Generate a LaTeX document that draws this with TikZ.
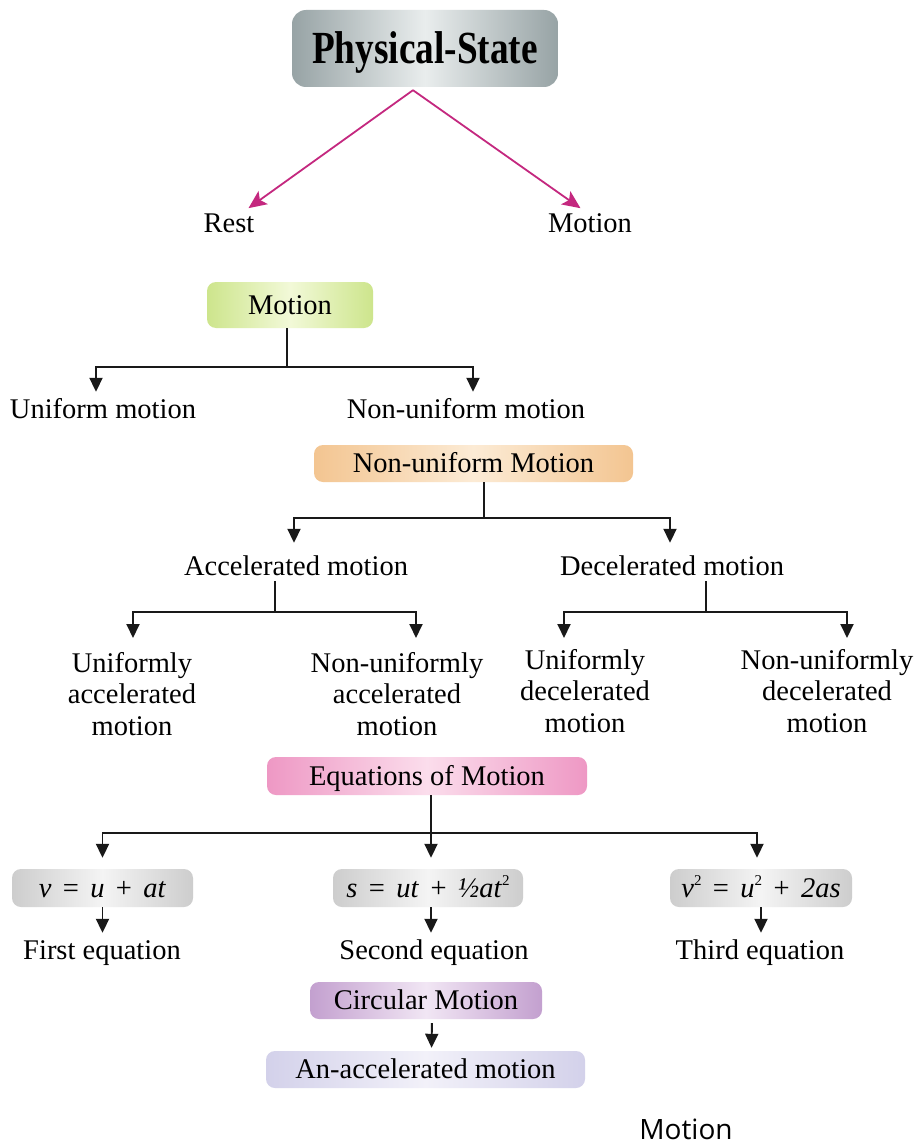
\documentclass[tikz,border=0pt]{standalone}
\usepackage{fontspec}
\setmainfont{Liberation Serif}
\newfontfamily\titlefont[FakeStretch=0.81]{Liberation Serif}
\newfontfamily\labelsans{Open Sans}
\usetikzlibrary{arrows.meta}
\definecolor{mag}{HTML}{C4287F}
\definecolor{psdark}{HTML}{97A3A5}
\definecolor{pslight}{HTML}{E9EDED}
\definecolor{mdark}{HTML}{CDE58C}
\definecolor{mlight}{HTML}{F2F9D8}
\definecolor{ndark}{HTML}{F3C591}
\definecolor{nlight}{HTML}{FCEBD5}
\definecolor{edark}{HTML}{EE98C4}
\definecolor{elight}{HTML}{FBDDEC}
\definecolor{qdark}{HTML}{CDCDCD}
\definecolor{qlight}{HTML}{F4F4F4}
\definecolor{cdark}{HTML}{C3A0CF}
\definecolor{clight}{HTML}{F1E6F4}
\definecolor{adark}{HTML}{D3D1EA}
\definecolor{alight}{HTML}{F2F1F9}
\newcommand{\sqr}{\raisebox{0.42em}{\fontsize{15}{15}\selectfont 2}}
\newcommand{\gap}{\hspace{0.4em}}
\begin{document}
\begin{tikzpicture}[x=1pt,y=-1pt,
  txt/.style={font=\fontsize{28.5}{31.5}\selectfont, inner sep=0pt, text height=19pt, text depth=6pt},
  mtxt/.style={font=\fontsize{28.5}{31.5}\selectfont, inner sep=0pt, align=center, anchor=north},
  boxbase/.style={rounded corners=9pt, inner sep=0pt, text height=18.5pt, text depth=0pt, font=\fontsize{28.5}{31.5}\selectfont},
  gbox/.style 2 args={boxbase, left color=#1, right color=#1, middle color=#2},
  conn/.style={line width=1.9pt, draw=black!90},
  arr/.style={conn, -{Triangle[width=13pt,length=14pt]}},
  magarr/.style={line width=1.8pt, draw=mag, -{Stealth[width=16pt,length=18pt,inset=4pt]}}
]
\useasboundingbox (0,0) rectangle (920,1145);
\fill[white] (0,0) rectangle (920,1145);

% Physical state
\node[gbox={psdark}{pslight}, minimum width=266pt, minimum height=77pt, rounded corners=14pt,
      font=\titlefont\bfseries\fontsize{46}{50}\selectfont, text height=30.5pt] (ps) at (425,48.5) {Physical-State};
\coordinate (apex) at ([xshift=-12pt,yshift=-3pt]ps.south);
\node[txt] (rest) at (229,225.5) {Rest};
\node[txt] (mot) at (590,225.5) {Motion};
\draw[magarr, shorten >=8pt] (apex) -- ([xshift=13pt]rest.north);
\draw[magarr, shorten >=8pt] (apex) -- ([xshift=-3pt]mot.north);

% Motion
\node[gbox={mdark}{mlight}, minimum width=166pt, minimum height=46pt] (mbox) at (290,305) {Motion};
\coordinate (j1) at (287,367);
\draw[conn] (mbox.south -| j1) -- (j1);
\node[txt] (um) at (103,411.5) {Uniform motion};
\node[txt] (num) at (466,411.5) {Non-uniform motion};
\draw[arr, shorten >=7pt] (j1) -| ([xshift=-7pt]um.north);
\draw[arr, shorten >=7pt] (j1) -| ([xshift=7pt]num.north);

% Non-uniform motion
\node[gbox={ndark}{nlight}, minimum width=319pt, minimum height=37pt] (nbox) at (473.5,463.5) {Non-uniform Motion};
\coordinate (j2) at (484,518);
\draw[conn] (nbox.south -| j2) -- (j2);
\node[txt] (acc) at (296,568.5) {Accelerated motion};
\node[txt] (dec) at (672,568.5) {Decelerated motion};
\draw[arr, shorten >=13pt] (j2) -| ([xshift=-2pt]acc.north);
\draw[arr, shorten >=13pt] (j2) -| ([xshift=-2pt]dec.north);

\coordinate (j3) at (275,612);
\coordinate (j4) at (706,612);
\draw[conn] (acc.south -| j3) -- (j3);
\draw[conn] (dec.south -| j4) -- (j4);
\node[mtxt] (ua) at (132,652) {Uniformly\\accelerated\\motion};
\node[mtxt] (nua) at (397,652) {Non-uniformly\\accelerated\\motion};
\node[mtxt] (ud) at (585,649) {Uniformly\\decelerated\\motion};
\node[mtxt] (nud) at (827,649) {Non-uniformly\\decelerated\\motion};
\draw[arr, shorten >=14pt] (j3) -| ([xshift=1pt]ua.north);
\draw[arr, shorten >=14pt] (j3) -| ([xshift=19pt]nua.north);
\draw[arr, shorten >=11pt] (j4) -| ([xshift=-21pt]ud.north);
\draw[arr, shorten >=11pt] (j4) -| ([xshift=20pt]nud.north);

% Equations of motion
\node[gbox={edark}{elight}, minimum width=320pt, minimum height=38pt] (ebox) at (427,776) {Equations of Motion};
\coordinate (j5) at (431,833);
\draw[conn] (ebox.south -| j5) -- (j5);
\node[gbox={qdark}{qlight}, minimum width=181pt, minimum height=38pt] (e1) at (102.5,888)
  {\textit{v}\gap=\gap\textit{u}\gap+\gap\textit{at}};
\node[gbox={qdark}{qlight}, minimum width=190pt, minimum height=38pt] (e2) at (428,888)
  {\textit{s}\gap=\gap\textit{ut}\gap+\gap\textit{½at}\sqr};
\node[gbox={qdark}{qlight}, minimum width=182pt, minimum height=38pt] (e3) at (761,888)
  {\textit{v}\sqr\gap=\gap\textit{u}\sqr\gap+\gap\textit{2as}};
\draw[arr, shorten >=11pt] (j5) -| (e1.north);
\draw[arr, shorten >=11pt] (j5) -- (j5 |- e2.north);
\draw[arr, shorten >=11pt] (j5) -| ([xshift=-4pt]e3.north);
\node[txt] (fe) at (102,952.5) {First equation};
\node[txt] (se) at (434,952.5) {Second equation};
\node[txt] (te) at (760,952.5) {Third equation};
\draw[arr, shorten >=7pt] (e1.south) -- (e1.south |- fe.north);
\draw[arr, shorten >=7pt] (e2.south -| j5) -- (j5 |- se.north);
\draw[arr, shorten >=7pt] (e3.south) -- (e3.south |- te.north);

% Circular motion
\node[gbox={cdark}{clight}, minimum width=232pt, minimum height=37pt] (cbox) at (426,1000.5) {Circular Motion};
\node[gbox={adark}{alight}, minimum width=319pt, minimum height=37pt] (abox) at (425.5,1069.5) {An-accelerated motion};
\draw[arr, shorten <=4pt, shorten >=3pt] ([xshift=6pt]cbox.south) -- ([xshift=6pt]abox.north);

\node[font=\labelsans\fontsize{28}{30}\selectfont, inner sep=0pt] (foot) at (686,1129) {Motion};
\end{tikzpicture}
\end{document}
